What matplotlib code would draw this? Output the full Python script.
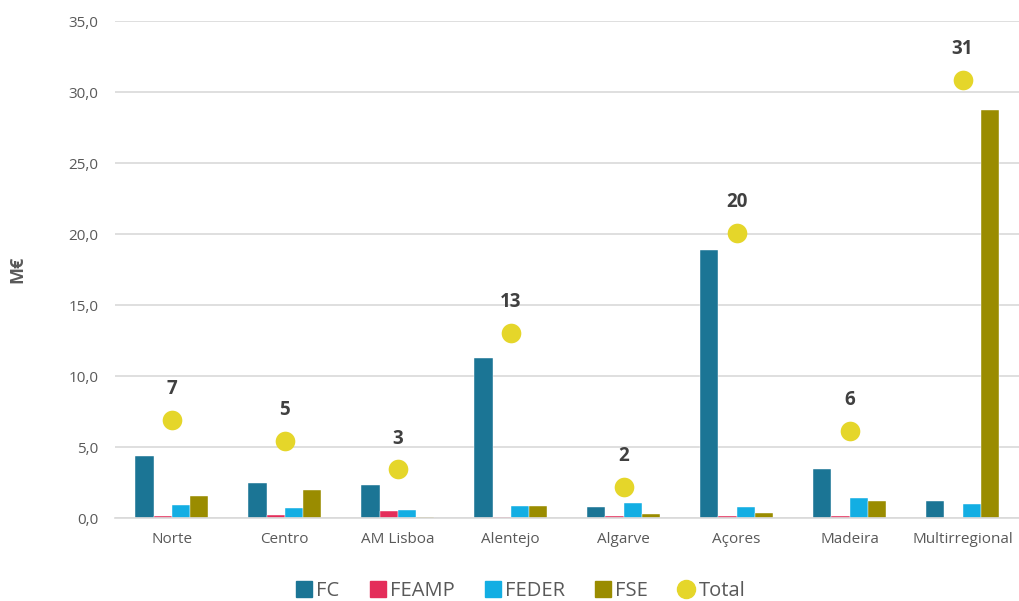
import numpy as np
import matplotlib.pyplot as plt
from matplotlib.lines import Line2D

plt.rcParams['font.family'] = ['Open Sans', 'DejaVu Sans']

# Data (M€)
regions = ["Norte", "Centro", "AM Lisboa", "Alentejo", "Algarve", "Açores", "Madeira", "Multirregional"]
fc = [4.37, 2.46, 2.32, 11.27, 0.77, 18.9, 3.43, 1.18]
feamp = [0.12, 0.25, 0.49, 0.08, 0.12, 0.12, 0.12, 0.0]
feder = [0.9, 0.72, 0.56, 0.85, 1.03, 0.75, 1.41, 0.99]
fse = [1.55, 2.0, 0.05, 0.85, 0.28, 0.35, 1.2, 28.7]
total = [6.92, 5.43, 3.42, 13.02, 2.18, 20.1, 6.14, 30.87]

series = [("FC", fc, "#1b7595"), ("FEAMP", feamp, "#e42d5a"),
          ("FEDER", feder, "#13aee3"), ("FSE", fse, "#9a8c00")]

fig = plt.figure(figsize=(10.19, 6.01), dpi=100)
ax = fig.add_axes([0.113, 0.138, 0.887, 0.827])

x = np.arange(len(regions))
w = 0.16
for i, (name, vals, col) in enumerate(series):
    ax.bar(x + (i - 1.5) * w, vals, width=w, color=col, edgecolor="white", linewidth=0.3, zorder=2)

ax.scatter(x, total, s=200, color="#e5d62a", zorder=3, linewidths=0)
for xi, t in zip(x, total):
    ax.annotate(f"{t:.0f}", (xi, t), xytext=(0, 15), textcoords="offset points",
                ha="center", va="bottom", fontsize=13.5, fontweight="bold", color="#404040")

ax.set_xlim(-0.5, 7.5)
ax.set_ylim(0, 35)
ax.set_yticks(np.arange(0, 36, 5))
ax.set_yticklabels([f"{v:.1f}".replace(".", ",") for v in np.arange(0, 36, 5)])
ax.set_xticks(x)
ax.set_xticklabels(regions)
ax.tick_params(axis="both", length=0, labelsize=11, colors="#595959", pad=12)
ax.tick_params(axis="x", pad=10)
ax.grid(axis="y", color="#d9d9d9", linewidth=1.2, zorder=0)
ax.set_axisbelow(True)
for s in ["top", "right", "left"]:
    ax.spines[s].set_visible(False)
ax.spines["bottom"].set_color("#d9d9d9")
ax.spines["bottom"].set_linewidth(1.2)

ax.set_ylabel("M€", fontsize=13, fontweight="bold", color="#595959", labelpad=30)

handles = [Line2D([], [], marker="s", linestyle="", markersize=11, color=c) for _, _, c in series]
handles.append(Line2D([], [], marker="o", linestyle="", markersize=13, color="#e5d62a"))
labels = [s[0] for s in series] + ["Total"]
leg = fig.legend(handles, labels, loc="center", bbox_to_anchor=(0.511, 0.016), ncol=5, frameon=False,
                 fontsize=14.5, handlelength=0.8, handletextpad=0.2, columnspacing=1.5)
for t in leg.get_texts():
    t.set_color("#595959")

fig.savefig("out.png", dpi=100)
